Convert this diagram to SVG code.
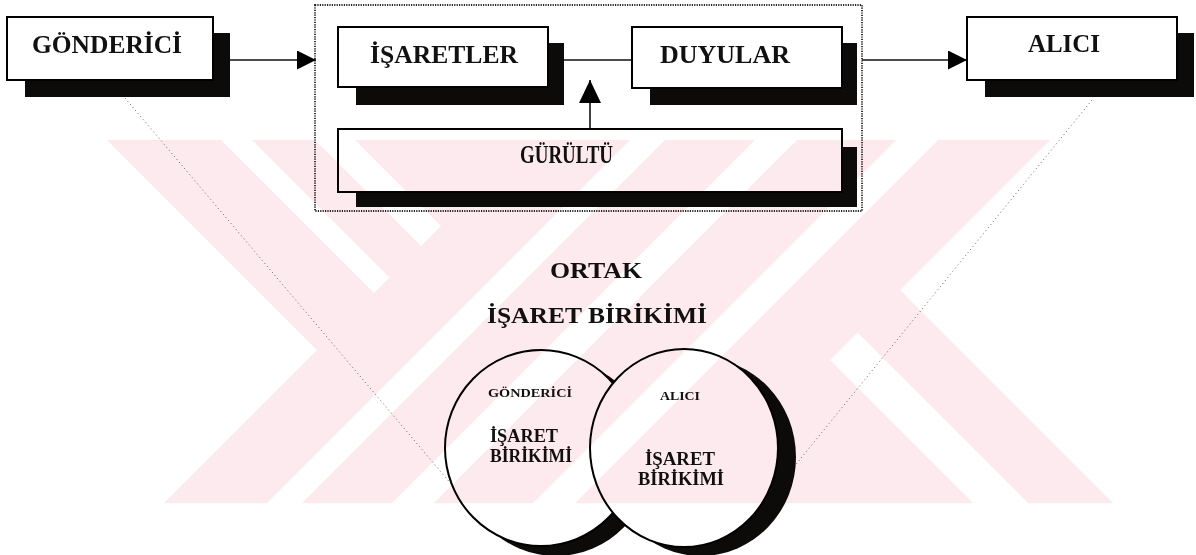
<svg xmlns="http://www.w3.org/2000/svg" width="1196" height="555" viewBox="0 0 1196 555">
  <style>
    .box { fill: #ffffff; stroke: #000000; stroke-width: 2; }
    .shadow { fill: #0d0a0a; }
    .lbl { font-family: "Liberation Serif", "Times New Roman", serif; font-weight: bold; fill: #111111; }
    .big { font-size: 26px; }
    .mid { font-size: 23px; }
    .inner { font-size: 18px; }
    .small { font-size: 12px; }
    .link { stroke: #111111; stroke-width: 1.6; fill: none; }
    .cone { stroke: #666666; stroke-width: 1; stroke-dasharray: 1 3; fill: none; }
    .frame { fill: none; stroke: #222222; stroke-width: 1.8; stroke-dasharray: 1.2 1.2; }
    .wm-pink { fill: #fdeaee; }
    .wm-gap { fill: #ffffff; }
  </style>
  <defs>
    <marker id="headH" markerUnits="userSpaceOnUse" markerWidth="20" markerHeight="20" refX="19" refY="9.5" orient="auto">
      <path d="M0,0 L19,9.5 L0,19 z" fill="#000000"/>
    </marker>
    <marker id="headV" markerUnits="userSpaceOnUse" markerWidth="24" markerHeight="24" refX="23" refY="11" orient="auto">
      <path d="M0,0 L23,11 L0,22 z" fill="#000000"/>
    </marker>
    <clipPath id="wmClip">
      <rect x="0" y="140" width="1196" height="363"/>
    </clipPath>
  </defs>

  <rect x="0" y="0" width="1196" height="555" fill="#ffffff"/>

  <!-- dotted frame around the channel -->
  <rect id="channel-frame" class="frame" x="315" y="5" width="547" height="206"/>

  <!-- connectors -->
  <g id="connectors">
    <line class="link" x1="230" y1="60" x2="316" y2="60" marker-end="url(#headH)"/>
    <line class="link" x1="564" y1="60" x2="632" y2="60"/>
    <line class="link" x1="590" y1="129" x2="590" y2="80" marker-end="url(#headV)"/>
    <line class="link" x1="862" y1="60" x2="967" y2="60" marker-end="url(#headH)"/>
    <line class="cone" x1="125" y1="98" x2="452" y2="485"/>
    <line class="cone" x1="1092" y1="100" x2="793" y2="468"/>
  </g>

  <g id="gonderici">
    <rect class="shadow" x="25" y="33" width="205" height="64"/>
    <rect class="box" x="7" y="17" width="206" height="63"/>
    <text class="lbl big" x="32" y="53" textLength="150" lengthAdjust="spacingAndGlyphs">GÖNDERİCİ</text>
  </g>

  <g id="isaretler">
    <rect class="shadow" x="356" y="43" width="208" height="62"/>
    <rect class="box" x="338" y="27" width="210" height="60"/>
    <text class="lbl big" x="370" y="63" textLength="148" lengthAdjust="spacingAndGlyphs">İŞARETLER</text>
  </g>

  <g id="duyular">
    <rect class="shadow" x="650" y="43" width="207" height="62"/>
    <rect class="box" x="632" y="27" width="210" height="61"/>
    <text class="lbl big" x="660" y="63" textLength="130" lengthAdjust="spacingAndGlyphs">DUYULAR</text>
  </g>

  <g id="gurultu">
    <rect class="shadow" x="356" y="147" width="501" height="60"/>
    <rect class="box" x="338" y="129" width="504" height="63"/>
    <text class="lbl big" x="520" y="163" textLength="93" lengthAdjust="spacingAndGlyphs">GÜRÜLTÜ</text>
  </g>

  <g id="alici">
    <rect class="shadow" x="985" y="33" width="209" height="64"/>
    <rect class="box" x="967" y="17" width="210" height="63"/>
    <text class="lbl big" x="1028" y="52" textLength="72" lengthAdjust="spacingAndGlyphs">ALICI</text>
  </g>

  <g id="ortak-baslik">
    <text class="lbl mid" x="550" y="278" textLength="92" lengthAdjust="spacingAndGlyphs">ORTAK</text>
    <text class="lbl mid" x="487" y="323" textLength="220" lengthAdjust="spacingAndGlyphs">İŞARET BİRİKİMİ</text>
  </g>

  <g id="gonderici-birikimi">
    <ellipse class="shadow" cx="556" cy="458" rx="96" ry="98"/>
    <ellipse class="box" cx="541" cy="448" rx="96" ry="98"/>
    <text class="lbl small" x="488" y="397" textLength="84" lengthAdjust="spacingAndGlyphs">GÖNDERİCİ</text>
    <text class="lbl inner" x="490" y="442" textLength="68" lengthAdjust="spacingAndGlyphs">İŞARET</text>
    <text class="lbl inner" x="490" y="462" textLength="82" lengthAdjust="spacingAndGlyphs">BİRİKİMİ</text>
  </g>

  <g id="alici-birikimi">
    <ellipse class="shadow" cx="701" cy="457" rx="95" ry="99"/>
    <ellipse class="box" cx="684" cy="448" rx="94" ry="99"/>
    <text class="lbl small" x="660" y="400" textLength="40" lengthAdjust="spacingAndGlyphs">ALICI</text>
    <text class="lbl inner" x="645" y="465" textLength="70" lengthAdjust="spacingAndGlyphs">İŞARET</text>
    <text class="lbl inner" x="638" y="485" textLength="86" lengthAdjust="spacingAndGlyphs">BİRİKİMİ</text>
  </g>

  <!-- background emblem: two crossing striped bands, tinted over the page -->
  <g id="emblem" clip-path="url(#wmClip)" style="mix-blend-mode:multiply">
    <polygon class="wm-pink" points="107,140 750,140 1113,503 470,503"/>
    <polygon class="wm-pink" points="527,140 1050,140 687,503 164,503"/>
    <!-- stripes of the descending band, cut by the rising band -->
    <polygon class="wm-gap" points="374,293 389.5,277.5 206,94 190.5,109.5"/>
    <polygon class="wm-gap" points="421,246 441,226 307.5,92.5 287.5,112.5"/>
    <polygon class="wm-gap" points="830,360 857.5,332.5 1112.5,587.5 1085,615"/>
    <!-- stripes of the rising band, running its full length -->
    <polygon class="wm-gap" points="670,100 705,100 255,550 220,550"/>
    <polygon class="wm-gap" points="795,100 837,100 387,550 345,550"/>
    <polygon class="wm-gap" points="936,100 978,100 528,550 486,550"/>
  </g>
</svg>
